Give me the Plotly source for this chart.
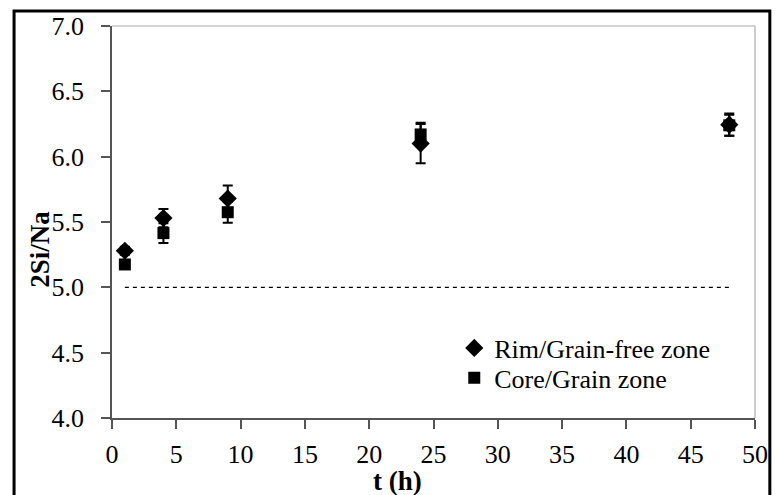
import plotly.graph_objects as go

# ---- data ----
t_hours = [1, 4, 9, 24, 48]
rim_values = [5.28, 5.53, 5.68, 6.10, 6.245]
rim_errors = [0.03, 0.07, 0.10, 0.15, 0.085]
core_values = [5.175, 5.415, 5.575, 6.17, 6.24]
core_errors = [0.03, 0.075, 0.08, 0.09, 0.08]
ref_x = [1, 48]
ref_y = [5.0, 5.0]
x_ticks = [0, 5, 10, 15, 20, 25, 30, 35, 40, 45, 50]
y_ticks = [4.0, 4.5, 5.0, 5.5, 6.0, 6.5, 7.0]

FONT = "Liberation Serif, Times New Roman, serif"

fig = go.Figure()

fig.add_trace(go.Scatter(
    x=ref_x, y=ref_y, mode="lines",
    line=dict(color="black", width=1.3, dash="4px,4px"),
    showlegend=False, hoverinfo="skip"))

fig.add_trace(go.Scatter(
    x=t_hours, y=rim_values, mode="markers", name="Rim/Grain-free zone",
    marker=dict(symbol="diamond", size=14, color="black"),
    error_y=dict(type="data", array=rim_errors, visible=True,
                 color="black", thickness=2, width=5),
    legend="legend"))

fig.add_trace(go.Scatter(
    x=t_hours, y=core_values, mode="markers", name="Core/Grain zone",
    marker=dict(symbol="square", size=12, color="black"),
    error_y=dict(type="data", array=core_errors, visible=True,
                 color="black", thickness=2, width=5),
    legend="legend2"))

L, R, T, B = 112, 18, 24, 77
W, H = 780, 495
pw, ph = W - L - R, H - T - B

def px(xp):
    return (xp - L) / pw

def py(yp):
    return (H - B - yp) / ph

leg_common = dict(xanchor="left", yanchor="top", bgcolor="rgba(0,0,0,0)",
                  borderwidth=0, font=dict(family=FONT, size=26, color="black"),
                  itemwidth=30)

fig.update_layout(
    width=W, height=H,
    margin=dict(l=L, r=R, t=T, b=B),
    paper_bgcolor="white", plot_bgcolor="white",
    font=dict(family=FONT, size=26, color="black"),
    xaxis=dict(range=[0, 50], tickvals=x_ticks, ticktext=[str(v) for v in x_ticks],
               showgrid=False, zeroline=False, showline=True,
               linecolor="#555555", linewidth=1.5,
               ticks="outside", ticklen=9, tickwidth=1.5, tickcolor="#555555",
               ticklabelstandoff=3,
               tickfont=dict(family=FONT, size=26, color="black")),
    yaxis=dict(range=[4.0, 7.0], tickvals=y_ticks, ticktext=[f"{v:.1f}" for v in y_ticks],
               showgrid=False, zeroline=False, showline=True,
               linecolor="#555555", linewidth=1.5,
               ticks="outside", ticklen=9, tickwidth=1.5, tickcolor="#555555",
               ticklabelstandoff=12,
               tickfont=dict(family=FONT, size=26, color="black")),
    legend=dict(x=px(458), y=py(324), **leg_common),
    legend2=dict(x=px(458), y=py(354), **leg_common),
    showlegend=True,
)

# top and right frame lines (light gray)
fig.add_shape(type="line", xref="paper", yref="paper", x0=0, x1=1, y0=1, y1=1,
              line=dict(color="#aaaaaa", width=1.2))
fig.add_shape(type="line", xref="paper", yref="paper", x0=1, x1=1, y0=0, y1=1,
              line=dict(color="#aaaaaa", width=1.2))
# outer chart border
fig.add_shape(type="rect", xref="paper", yref="paper",
              x0=px(13), x1=px(777), y0=py(500), y1=py(9),
              line=dict(color="black", width=3), fillcolor="rgba(0,0,0,0)")

fig.add_annotation(text="<b>2Si/Na</b>", xref="paper", yref="paper",
                   x=px(39), y=py(248), textangle=-90, showarrow=False,
                   xanchor="center", yanchor="middle",
                   font=dict(family=FONT, size=27, color="black"))
fig.add_annotation(text="<b>t (h)</b>", xref="paper", yref="paper",
                   x=px(401), y=py(481), showarrow=False,
                   xanchor="center", yanchor="middle",
                   font=dict(family=FONT, size=27, color="black"))

fig.write_html("out.html", config={"displayModeBar": False},
               post_script="document.body.style.margin='0px';document.body.style.padding='0px';")
